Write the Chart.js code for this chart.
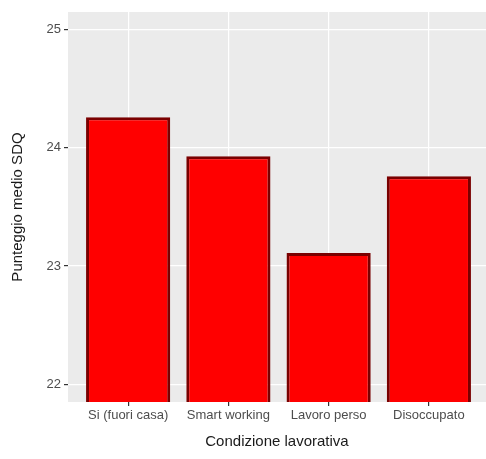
<!DOCTYPE html>
<html>
<head>
<meta charset="utf-8">
<script src="https://cdn.jsdelivr.net/npm/chart.js@4"></script>
<style>
  html, body { margin: 0; padding: 0; background: #fff; }
  #wrap { width: 486px; height: 459px; }
</style>
</head>
<body>
<div id="wrap"><canvas id="chart"></canvas></div>
<script>
// data
const categories = ['Si (fuori casa)', 'Smart working', 'Lavoro perso', 'Disoccupato'];
const scores = [24.26, 23.93, 23.11, 23.76];
const yTicks = [22, 23, 24, 25];
const yMin = 21.85;
const yMax = 25.15;

// gray panel behind the plot, like ggplot
const panelBg = {
    id: 'panelBg',
    beforeDraw: (chart) => {
        const a = chart.chartArea;
        const ctx = chart.ctx;
        ctx.save();
        ctx.fillStyle = '#EBEBEB';
        ctx.fillRect(a.left, a.top, a.right - a.left, a.bottom - a.top);
        ctx.restore();
    }
};

const chart = new Chart(document.getElementById('chart'), {
    type: 'bar',
    data: {
        datasets: [{
            label: 'Punteggio medio SDQ',
            data: scores.map((v, i) => ({ x: i + 1, y: v })),
            backgroundColor: '#FF0000',
            borderColor: '#7A0000',
            borderWidth: 3,
            borderSkipped: 'start',
            base: yMin,
            barPercentage: 0.84,
            categoryPercentage: 1
        }]
    },
    options: {
        responsive: true,
        maintainAspectRatio: false,
        animation: false,
        layout: { padding: { top: 12, right: 0, left: 0, bottom: 0 } },
        plugins: {
            legend: { display: false },
            tooltip: { enabled: false }
        },
        scales: {
            x: {
                type: 'linear',
                min: 0.4,
                max: 4.57,
                offset: false,
                afterBuildTicks: (scale) => {
                    scale.ticks = categories.map((c, i) => ({ value: i + 1 }));
                },
                afterFit: (scale) => { scale.height = 57; },
                border: { display: false },
                grid: {
                    offset: false,
                    color: '#FFFFFF',
                    lineWidth: 1.2,
                    tickColor: '#333333',
                    tickLength: 4
                },
                ticks: {
                    autoSkip: false,
                    maxRotation: 0,
                    padding: 2,
                    color: '#4D4D4D',
                    font: { family: 'Liberation Sans', size: 13 },
                    callback: (v) => categories[v - 1]
                },
                title: {
                    display: true,
                    text: 'Condizione lavorativa',
                    color: '#1A1A1A',
                    font: { family: 'Liberation Sans', size: 15 },
                    padding: { top: 0, bottom: 8 }
                }
            },
            y: {
                min: yMin,
                max: yMax,
                afterBuildTicks: (scale) => {
                    scale.ticks = yTicks.map(v => ({ value: v }));
                },
                afterFit: (scale) => { scale.width = 68; },
                border: { display: false },
                grid: {
                    color: '#FFFFFF',
                    lineWidth: 1.2,
                    tickColor: '#333333',
                    tickLength: 4
                },
                ticks: {
                    padding: 3,
                    color: '#4D4D4D',
                    font: { family: 'Liberation Sans', size: 13 }
                },
                title: {
                    display: true,
                    text: 'Punteggio medio SDQ',
                    color: '#1A1A1A',
                    font: { family: 'Liberation Sans', size: 15 },
                    padding: { top: 9, bottom: 0 }
                }
            }
        }
    },
    plugins: [panelBg]
});
</script>
</body>
</html>
